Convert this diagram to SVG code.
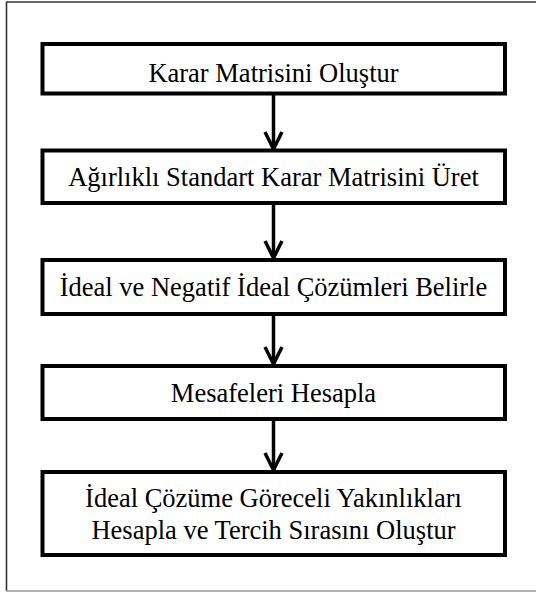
<svg xmlns="http://www.w3.org/2000/svg" width="536" height="592" viewBox="0 0 536 592">
<style>
.box{fill:#fff;stroke:#000;stroke-width:4;stroke-linejoin:miter}
.t{font-family:"Liberation Serif","Times New Roman",serif;font-size:26.5px;fill:#000;text-anchor:middle}
.c{stroke:#000;stroke-width:3.5;fill:none}
</style>
<rect x="0" y="0" width="536" height="592" fill="#fff"/>
<g id="frame">
<line x1="6.5" y1="2" x2="6.5" y2="591" stroke="#333" stroke-width="1.6"/>
<line x1="6" y1="2" x2="536" y2="2" stroke="#333" stroke-width="1.6"/>
<line x1="6" y1="591" x2="536" y2="591" stroke="#999" stroke-width="1.4"/>
</g>
<g id="connectors">
<line class="c" x1="273.5" y1="95" x2="273.5" y2="148"/>
<polyline class="c" points="265,132 273.5,149 282,132"/>
<line class="c" x1="273.5" y1="204" x2="273.5" y2="257"/>
<polyline class="c" points="265,241 273.5,258 282,241"/>
<line class="c" x1="273.5" y1="315" x2="273.5" y2="363"/>
<polyline class="c" points="265,347 273.5,364 282,347"/>
<line class="c" x1="273.5" y1="420" x2="273.5" y2="469"/>
<polyline class="c" points="265,453 273.5,470 282,453"/>
</g>
<g id="n1">
<rect class="box" x="42.5" y="44" width="462.5" height="49.5"/>
<text class="t" x="273.5" y="82">Karar Matrisini Oluştur</text>
</g>
<g id="n2">
<rect class="box" x="42.5" y="150.5" width="462.5" height="52.5"/>
<text class="t" x="273.5" y="186">Ağırlıklı Standart Karar Matrisini Üret</text>
</g>
<g id="n3">
<rect class="box" x="42.5" y="260" width="462.5" height="54"/>
<text class="t" x="273.5" y="295.5">İdeal ve Negatif İdeal Çözümleri Belirle</text>
</g>
<g id="n4">
<rect class="box" x="42.5" y="366" width="462.5" height="53"/>
<text class="t" x="273.5" y="401.5">Mesafeleri Hesapla</text>
</g>
<g id="n5">
<rect class="box" x="42.5" y="472" width="462.5" height="83"/>
<text class="t" x="273.5" y="507">İdeal Çözüme Göreceli Yakınlıkları</text>
<text class="t" x="273.5" y="539">Hesapla ve Tercih Sırasını Oluştur</text>
</g>
</svg>
